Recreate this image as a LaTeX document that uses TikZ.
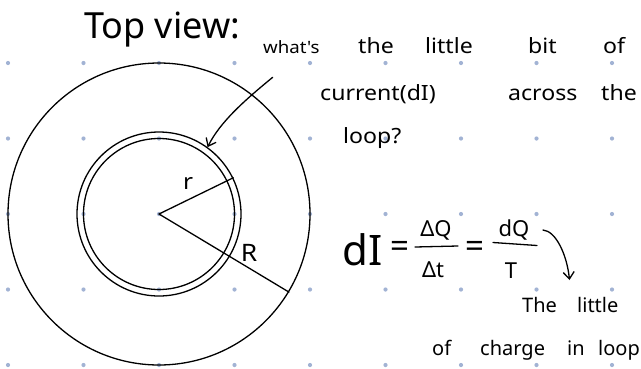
\documentclass[tikz,border=0pt]{standalone}
\usepackage{fontspec}
\usepackage{amsmath}
\setmainfont{Noto Sans}
\setsansfont{Noto Sans}
\newfontfamily\hand[FakeStretch=1.1]{Noto Sans}
\usetikzlibrary{arrows.meta}
\definecolor{griddot}{HTML}{A2B3D4}
\tikzset{
  ink/.style={line width=1.3pt, black, line cap=round, line join=round},
  ring/.style={circle, draw, line width=1.3pt, inner sep=0pt},
  word/.style={anchor=base west, inner sep=0pt, font=\hand\fontsize{21}{25}\selectfont},
  smallword/.style={anchor=base west, inner sep=0pt, font=\hand\fontsize{17}{21}\selectfont},
  note/.style={anchor=base west, inner sep=0pt, font=\fontsize{20}{24}\selectfont},
  eqpart/.style={anchor=base, inner sep=0pt, font=\fontsize{22}{26}\selectfont},
  eqsign/.style={inner sep=0pt, font=\fontsize{33}{36}\selectfont},
  barb/.style={-{Straight Barb[length=7pt,width=11pt,line width=1.3pt]}}
}
\begin{document}
\begin{tikzpicture}[x=1pt,y=-1pt]
\useasboundingbox (0,0) rectangle (641,368);
\clip (0,0) rectangle (641,368);
\fill[white] (0,0) rectangle (641,368);
% dot grid
\foreach \i in {0,...,8}
  \foreach \j in {0,...,4}
    \fill[griddot] ({8+75.5*\i},{63+75.5*\j}) circle (2.1);
% circles
\coordinate (O) at (159,214);
\node[ring, minimum size=302pt] (outer) at (O) {};
\node[ring, minimum size=164pt] (loopA) at (O) {};
\node[ring, minimum size=151pt] (loopB) at (O) {};
% radii
\draw[ink] (O) -- (loopA.26);
\draw[ink] (O) -- (outer.-31.5);
\node[inner sep=0pt, font=\hand\fontsize{22}{26}\selectfont] (rlab) at (188,183) {r};
\node[inner sep=0pt, font=\hand\fontsize{24}{28}\selectfont] (Rlab) at (249,253) {R};
% title
\node[anchor=base west, inner sep=0pt, font=\fontsize{36}{42}\selectfont] (title) at (84,38) {Top view:};
% question
\node[smallword] (w1) at (263,53) {what's};
\node[word] (w2) at (358,53) {the};
\node[word] (w3) at (425,53) {little};
\node[word] (w4) at (528,53) {bit};
\node[word] (w5) at (603,53) {of};
\node[word] (w6) at (320,100) {current(dI)};
\node[word] (w7) at (508,100) {across};
\node[word] (w8) at (601,100) {the};
\node[word] (w9) at (343,143) {loop?};
\coordinate (qstart) at (272.7,77.3);
\draw[ink, barb] (qstart) .. controls (245,100) and (220,122) .. (loopA.54);
% equation
\node[anchor=base west, inner sep=0pt, font=\fontsize{42}{48}\selectfont] (dI) at (342,265) {dI};
\node[eqsign] (eq1) at (399.5,249) {=};
\node[eqpart] (numA) at (436,236) {ΔQ};
\node[eqpart] (denA) at (433,277) {Δt};
\draw[ink] (415,247) -- (458,246);
\node[eqsign] (eq2) at (474.5,249) {=};
\node[eqpart] (numB) at (514,236) {dQ};
\node[eqpart] (denB) at (511,278) {T};
\draw[ink] (493,242.5) -- (537,245.5);
\coordinate (estart) at (543,230);
\draw[ink, barb] (estart) .. controls (556,231) and (567,255) .. (569.5,280);
% note
\node[note] (n1) at (522,312) {The};
\node[note] (n2) at (577,312) {little};
\node[note] (n3) at (432,355) {of};
\node[note] (n4) at (480,355) {charge};
\node[note] (n5) at (567,355) {in};
\node[note] (n6) at (598,355) {loop};
\end{tikzpicture}
\end{document}
